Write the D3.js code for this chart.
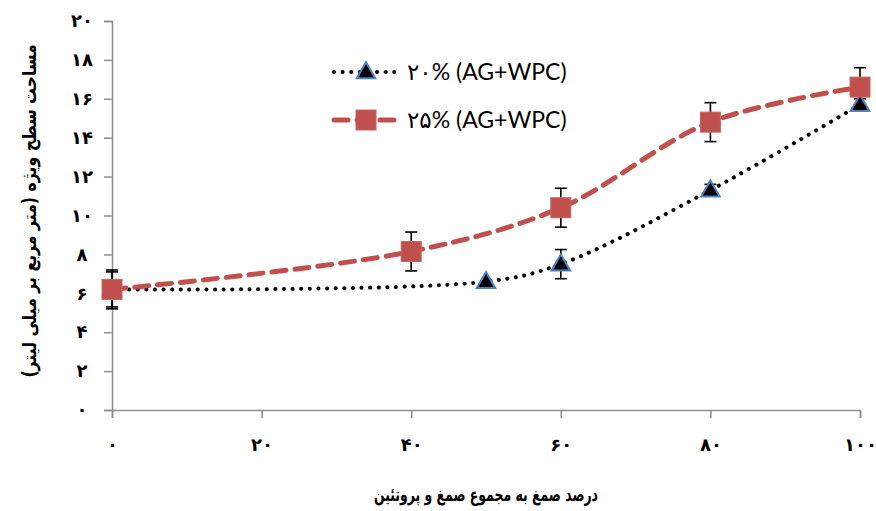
<!DOCTYPE html>
<html>
<head>
<meta charset="utf-8">
<script src="https://cdn.jsdelivr.net/npm/d3@7"></script>
<style>
  body { margin: 0; background: #fff; }
  svg { display: block; }
</style>
</head>
<body>
<script>
// data
const xValues20 = [0, 50, 60, 80, 100];
const yValues20 = [6.2, 6.6, 7.5, 11.3, 15.7];
const err20 = [0.9, 0, 0.75, 0.3, 0.3];

const xValues25 = [0, 40, 60, 80, 100];
const yValues25 = [6.2, 8.15, 10.4, 14.8, 16.6];
const err25 = [1.0, 1.0, 1.0, 1.0, 1.0];

const xTicks = [0, 20, 40, 60, 80, 100];
const yTicks = [0, 2, 4, 6, 8, 10, 12, 14, 16, 18, 20];

const seriesNames = ['۲۰% (AG+WPC)', '۲۵% (AG+WPC)'];
const xTitle = 'درصد صمغ به مجموع صمغ و پروتئین';
const yTitle = 'مساحت سطح ویژه (متر مربع بر میلی لیتر)';

const W = 876, H = 511;
const margin = {left: 112, right: 16, top: 21, bottom: 101};

const faDigits = '۰۱۲۳۴۵۶۷۸۹';
const toFa = n => String(n).replace(/\d/g, d => faDigits[d]);
const faFont = '"DejaVu Sans", sans-serif';

const svg = d3.select('body').append('svg')
    .attr('width', W)
    .attr('height', H);

const x = d3.scaleLinear().domain([0, 100]).range([margin.left, W - margin.right]);
const y = d3.scaleLinear().domain([0, 20]).range([H - margin.bottom, margin.top]);

// axes
const xAxis = svg.append('g')
    .attr('transform', `translate(0,${y(0)})`)
    .call(d3.axisBottom(x).tickValues(xTicks).tickSize(8).tickPadding(20).tickFormat(toFa));

const yAxis = svg.append('g')
    .attr('transform', `translate(${x(0)},0)`)
    .call(d3.axisLeft(y).tickValues(yTicks).tickSize(8).tickPadding(18).tickFormat(toFa));

[xAxis, yAxis].forEach(a => {
  a.select('.domain').attr('stroke', '#8c8c8c').attr('stroke-width', 1.5);
  a.selectAll('.tick line').attr('stroke', '#8c8c8c').attr('stroke-width', 1.5);
  a.selectAll('.tick text')
      .attr('fill', '#000')
      .style('font-family', faFont)
      .style('font-weight', 'bold')
      .style('font-size', '18px');
});
yAxis.selectAll('.tick text').attr('text-anchor', 'middle').attr('dx', '-4');

// titles
svg.append('text')
    .attr('x', 486).attr('y', 501)
    .attr('text-anchor', 'middle')
    .attr('direction', 'rtl')
    .attr('textLength', 224)
    .attr('lengthAdjust', 'spacingAndGlyphs')
    .style('font-family', faFont)
    .style('font-weight', 'bold')
    .style('font-size', '19px')
    .text(xTitle);

svg.append('text')
    .attr('transform', `translate(36,211) rotate(-90) scale(1,1.2)`)
    .attr('text-anchor', 'middle')
    .attr('direction', 'rtl')
    .style('font-family', faFont)
    .style('font-weight', 'bold')
    .style('font-size', '15.7px')
    .text(yTitle);

const line = d3.line().curve(d3.curveCatmullRom.alpha(0.5))
    .x(d => x(d[0])).y(d => y(d[1]));

const s20 = xValues20.map((v, i) => [v, yValues20[i], err20[i]]);
const s25 = xValues25.map((v, i) => [v, yValues25[i], err25[i]]);

const style20 = {stroke: '#000', width: 4, dash: '0.1 8.5'};
const style25 = {stroke: '#c0504d', width: 5, dash: '14 9'};

function drawLine(data, st) {
  svg.append('path')
      .datum(data)
      .attr('d', line)
      .attr('fill', 'none')
      .attr('stroke', st.stroke)
      .attr('stroke-width', st.width)
      .attr('stroke-dasharray', st.dash)
      .attr('stroke-linecap', 'round');
}

function drawErr(data) {
  const g = svg.append('g').attr('stroke', '#000').attr('stroke-width', 1.6);
  data.filter(d => d[2] > 0).forEach(d => {
    const cx = x(d[0]), y1 = y(d[1] + d[2]), y2 = y(d[1] - d[2]);
    g.append('line').attr('x1', cx).attr('x2', cx).attr('y1', y1).attr('y2', y2);
    g.append('line').attr('x1', cx - 6).attr('x2', cx + 6).attr('y1', y1).attr('y2', y1);
    g.append('line').attr('x1', cx - 6).attr('x2', cx + 6).attr('y1', y2).attr('y2', y2);
  });
}

const tri = d3.symbol().type(d3.symbolTriangle).size(150);
function drawTri(g, cx, cy) {
  g.append('path')
      .attr('d', tri)
      .attr('transform', `translate(${cx},${cy + 1})`)
      .attr('fill', '#000')
      .attr('stroke', '#4f81bd')
      .attr('stroke-width', 2);
}
function drawSq(g, cx, cy) {
  g.append('rect')
      .attr('x', cx - 10).attr('y', cy - 10)
      .attr('width', 20).attr('height', 20)
      .attr('fill', '#c0504d')
      .attr('stroke', '#c96562')
      .attr('stroke-width', 1);
}

drawLine(s20, style20);
drawErr(s20);
const m20 = svg.append('g');
s20.forEach(d => drawTri(m20, x(d[0]), y(d[1])));

drawLine(s25, style25);
drawErr(s25);
const m25 = svg.append('g');
s25.forEach(d => drawSq(m25, x(d[0]), y(d[1])));

// legend
const legend = svg.append('g');
[[style20, drawTri, 72], [style25, drawSq, 120]].forEach(([st, mk, ly], i) => {
  legend.append('line')
      .attr('x1', 334).attr('x2', 398).attr('y1', ly).attr('y2', ly)
      .attr('stroke', st.stroke)
      .attr('stroke-width', st.width)
      .attr('stroke-dasharray', st.dash)
      .attr('stroke-linecap', 'round');
  mk(legend, 366, ly);
  legend.append('text')
      .attr('x', 407).attr('y', ly + 8)
      .attr('direction', 'ltr')
      .style('font-family', 'Lato, "DejaVu Sans", sans-serif')
      .style('font-size', '23px')
      .attr('fill', '#000')
      .text(seriesNames[i]);
});
</script>
</body>
</html>
